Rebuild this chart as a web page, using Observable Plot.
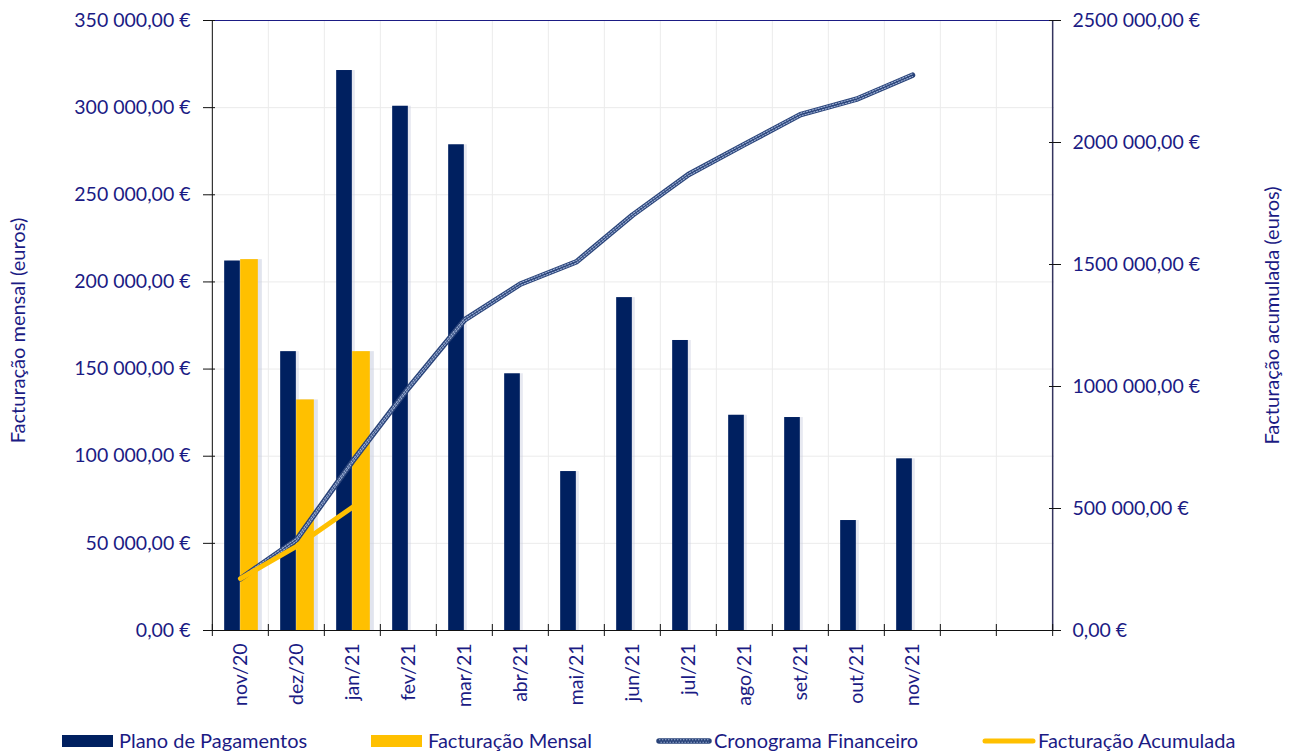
<!DOCTYPE html>
<html><head><meta charset="utf-8">
<script src="https://cdn.jsdelivr.net/npm/d3@7"></script>
<script src="https://cdn.jsdelivr.net/npm/@observablehq/plot@0.6"></script>
<style>
body{margin:0;background:#fff;font-family:Lato,sans-serif;}
#chart svg{display:block}
#legend{position:relative;height:35px;width:1291px;color:#1b1b84;font-size:20px;font-family:Lato,sans-serif}
.item{position:absolute;top:12px;height:20px;line-height:20px;white-space:nowrap}
.sw{position:absolute}
</style></head><body>
<div id="chart"></div>
<div id="legend"></div>
<script>
// ---- data ----
const months = ["nov/20","dez/20","jan/21","fev/21","mar/21","abr/21","mai/21","jun/21","jul/21","ago/21","set/21","out/21","nov/21"];
const emptySlots = ["_a","_b"];
const plano = [212000,160000,321300,300800,278700,147300,91200,191000,166400,123500,122200,63100,98500];
const mensal = [212800,132300,160000];
const cronograma = [212000,372000,693300,994100,1272800,1420100,1511300,1702300,1868700,1992200,2114400,2177500,2276000];
const acumulada = [212800,345100,505100];
const leftTicks = [0,50000,100000,150000,200000,250000,300000,350000];
const rightTicks = [0,500000,1000000,1500000,2000000,2500000];
const seriesNames = ["Plano de Pagamentos","Facturação Mensal","Cronograma Financeiro","Facturação Acumulada"];
const axisTitles = ["Facturação mensal (euros)","Facturação acumulada (euros)"];

// ---- layout ----
const W = 1291, H = 718, ML = 209, MR = 237, MT = 20, MB = 88;
const domain = months.concat(emptySlots);
const bw = (W - ML - MR) / domain.length;
const k = 350000 / 2500000;
const textColor = "#1b1b84";
const navy = "#002060", gold = "#FFC000";
const fmt = v => v >= 1000 ? `${Math.floor(v/1000)} ${String(Math.round(v % 1000)).padStart(3,"0")},00 €` : `${v},00 €`;

const planoData = months.map((m,i) => ({m, v: plano[i]}));
const mensalData = mensal.map((v,i) => ({m: months[i], v}));
const cronoData = cronograma.map((v,i) => ({m: months[i], v: v * k}));
const acumData = acumulada.map((v,i) => ({m: months[i], v: v * k}));

const plot = Plot.plot({
  width: W, height: H, marginLeft: ML, marginRight: MR, marginTop: MT, marginBottom: MB,
  style: {fontFamily: "Lato, sans-serif", fontSize: "19.5px", color: textColor, background: "#fff"},
  x: {type: "band", domain, padding: 0, axis: null},
  y: {domain: [0, 350000], axis: null},
  marks: [
    Plot.gridY({ticks: leftTicks, stroke: "#ebebeb", strokeOpacity: 1}),
    Plot.gridX({ticks: domain, dx: -bw/2, stroke: "#ebebeb", strokeOpacity: 1}),
    // bar shadows
    Plot.barY(planoData, {x: "m", y: "v", fill: "#c9cee0", fillOpacity: 0.45, insetLeft: bw/2 - 16, insetRight: bw/2, dx: 3}),
    Plot.barY(mensalData, {x: "m", y: "v", fill: "#c9cee0", fillOpacity: 0.55, insetLeft: bw/2, insetRight: bw/2 - 18, dx: 4}),
    Plot.barY(planoData, {x: "m", y: "v", fill: navy, insetLeft: bw/2 - 16, insetRight: bw/2}),
    Plot.barY(mensalData, {x: "m", y: "v", fill: gold, insetLeft: bw/2, insetRight: bw/2 - 18}),
    // axis lines
    Plot.ruleX([domain[0]], {dx: -bw/2, stroke: "#111"}),
    Plot.ruleX([domain[domain.length-1]], {dx: bw/2, stroke: "#34345e", strokeWidth: 1.5}),
    Plot.ruleY([0], {stroke: "#111"}),
    Plot.ruleY([350000], {stroke: textColor}),
    // lines
    Plot.line(cronoData, {x: "m", y: "v", stroke: "#294379", strokeWidth: 5.5, strokeLinecap: "round", strokeLinejoin: "round"}),
    Plot.line(cronoData, {x: "m", y: "v", stroke: "#9eb1d6", strokeWidth: 1.1, strokeDasharray: "1.4,1.6", dy: -1.3}),
    Plot.line(cronoData, {x: "m", y: "v", stroke: "#9eb1d6", strokeWidth: 1.1, strokeDasharray: "1.4,1.6", strokeDashoffset: 1.5, dy: 1.3}),
    Plot.line(acumData, {x: "m", y: "v", stroke: gold, strokeWidth: 5, strokeLinecap: "round", strokeLinejoin: "round"}),
    // left axis
    Plot.axisY({ticks: leftTicks, tickSize: 12, dx: 6, tickFormat: () => "", stroke: "#111", label: null}),
    Plot.axisY({ticks: leftTicks, tickSize: 0, tickPadding: 19, tickFormat: fmt, fill: textColor, label: null}),
    // right axis
    Plot.axisY({anchor: "right", ticks: rightTicks.map(v => v * k), tickSize: 12, dx: -6, tickFormat: () => "", stroke: "#111", label: null}),
    Plot.axisY({anchor: "right", ticks: rightTicks.map(v => v * k), tickSize: 0, tickPadding: 18, tickFormat: d => fmt(Math.round(d / k)), fill: textColor, label: null}),
    // bottom axis
    Plot.axisX({ticks: domain, tickSize: 12, dy: -6, dx: -bw/2, tickFormat: () => "", stroke: "#111", label: null}),
    Plot.axisX({ticks: [domain[domain.length-1]], tickSize: 12, dy: -6, dx: bw/2, tickFormat: () => "", stroke: "#111", label: null}),
    Plot.axisX({ticks: domain, tickSize: 0, tickPadding: 13, tickRotate: -90, tickFormat: d => months.includes(d) ? d : "", fill: textColor, label: null}),
    // axis titles
    Plot.text([axisTitles[0]], {text: d => d, frameAnchor: "left", textAnchor: "middle", rotate: -90, dx: -191, dy: 5, fill: textColor, fontSize: 20}),
    Plot.text([axisTitles[1]], {text: d => d, frameAnchor: "right", textAnchor: "middle", rotate: -90, dx: 218, dy: -10, fill: textColor, fontSize: 20})
  ]
});
document.getElementById("chart").append(plot);

// ---- legend ----
const legend = document.getElementById("legend");
const legendItems = [
  {name: seriesNames[0], kind: "rect", color: navy, sx: 62, tx: 119},
  {name: seriesNames[1], kind: "rect", color: gold, sx: 371, tx: 428},
  {name: seriesNames[2], kind: "crono", sx: 656, tx: 714},
  {name: seriesNames[3], kind: "line", color: gold, sx: 982, tx: 1038}
];
for (const it of legendItems) {
  const sw = document.createElementNS("http://www.w3.org/2000/svg", "svg");
  sw.setAttribute("class", "sw");
  sw.setAttribute("width", 56); sw.setAttribute("height", 14);
  sw.style.left = it.sx + "px"; sw.style.top = "16px";
  if (it.kind === "rect") {
    sw.innerHTML = `<rect x="0" y="1" width="51" height="12" fill="${it.color}"/>`;
  } else if (it.kind === "line") {
    sw.innerHTML = `<line x1="3" x2="51" y1="7" y2="7" stroke="${it.color}" stroke-width="5" stroke-linecap="round"/>`;
  } else {
    sw.innerHTML = `<line x1="3" x2="53" y1="7" y2="7" stroke="#294379" stroke-width="5.5" stroke-linecap="round"/>
      <line x1="3" x2="53" y1="5.7" y2="5.7" stroke="#9eb1d6" stroke-width="1.1" stroke-dasharray="1.4,1.6"/>
      <line x1="3" x2="53" y1="8.3" y2="8.3" stroke="#9eb1d6" stroke-width="1.1" stroke-dasharray="1.4,1.6" stroke-dashoffset="1.5"/>`;
  }
  legend.append(sw);
  const t = document.createElement("div");
  t.className = "item";
  t.style.left = it.tx + "px";
  t.textContent = it.name;
  legend.append(t);
}
</script>
</body></html>
